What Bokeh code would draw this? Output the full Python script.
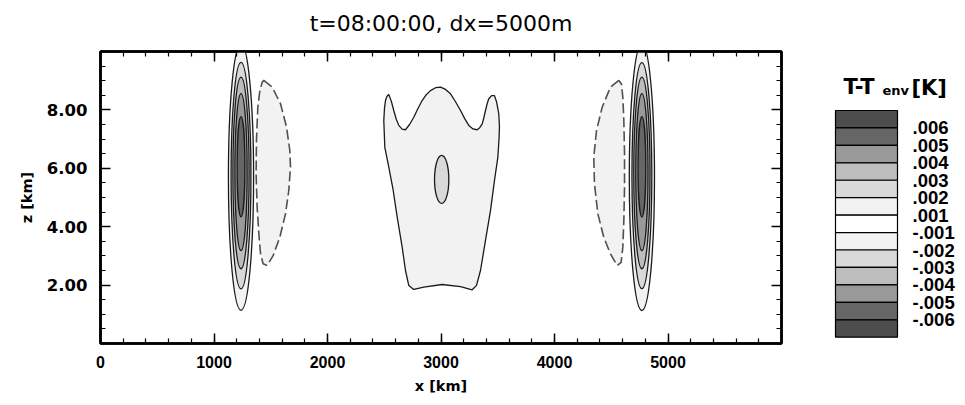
from bokeh.plotting import figure
from bokeh.models import Range1d, LinearAxis, FixedTicker, NumeralTickFormatter, CustomJSTickFormatter
from bokeh.layouts import row, column
from bokeh.core.properties import value
from bokeh.embed import file_html
from bokeh.resources import INLINE

# ---------------- data ----------------
TITLE = "t=08:00:00, dx=5000m"
X_LABEL = "x [km]"
Z_LABEL = "z [km]"
x_major = [0, 1000, 2000, 3000, 4000, 5000]
x_minor = list(range(0, 6001, 200))
z_major = [2, 4, 6, 8]
z_minor = [i * 0.5 for i in range(0, 21)]

# colour scale (top -> bottom) and its boundary labels
cb_colors = ["#4d4d4d", "#666666", "#999999", "#bdbdbd", "#d9d9d9", "#f2f2f2", "#ffffff",
             "#f2f2f2", "#d9d9d9", "#bdbdbd", "#999999", "#666666", "#4d4d4d"]
cb_labels = [".006", ".005", ".004", ".003", ".002", ".001",
             "-.001", "-.002", "-.003", "-.004", "-.005", "-.006"]
bounds = [0.006, 0.005, 0.004, 0.003, 0.002, 0.001, -0.001, -0.002, -0.003, -0.004, -0.005, -0.006]

# positive cores (nested closed contours .001 ... .005), same shape at both x positions
core_x = [1238, 4770]
core_levels = [0.001, 0.002, 0.003, 0.004, 0.005]
core_zc = [5.70, 5.75, 5.84, 5.87, 6.05]
core_h = [9.14, 7.76, 6.56, 5.38, 3.44]
core_w = [222, 175, 143, 108, 68]

# negative (-.001) dashed contours beside the cores
negL_x = [1439, 1513, 1586, 1639, 1668, 1674, 1659, 1630, 1580, 1521, 1468, 1433, 1410, 1395, 1380, 1371, 1374, 1386, 1404, 1425]
negL_z = [9.01, 8.78, 8.21, 7.41, 6.61, 6.04, 5.24, 4.44, 3.64, 3.01, 2.67, 2.73, 3.07, 3.76, 4.67, 5.81, 6.95, 8.09, 8.66, 8.95]
negR_x = [4567, 4493, 4420, 4370, 4346, 4352, 4382, 4434, 4493, 4552, 4587, 4602, 4611, 4617, 4617, 4611, 4602, 4590]
negR_z = [9.01, 8.78, 8.09, 7.29, 6.38, 5.47, 4.44, 3.64, 3.07, 2.67, 2.78, 3.30, 4.21, 5.35, 6.50, 7.64, 8.44, 8.89]

# central +.001 region
mid_x = [2540, 2562, 2584, 2606, 2628, 2657, 2687, 2723, 2760, 2797, 2834, 2870, 2907, 2952, 2996, 3040,
         3084, 3128, 3172, 3209, 3245, 3282, 3319, 3341, 3363, 3378, 3392, 3407, 3421, 3446, 3471, 3490,
         3509, 3515, 3512, 3501, 3486, 3471, 3436, 3392, 3348, 3313, 3275, 3172, 3010, 2849, 2760, 2716,
         2687, 2658, 2614, 2579, 2540, 2505, 2496, 2502, 2511, 2524]
mid_z = [8.53, 8.30, 7.98, 7.68, 7.47, 7.34, 7.32, 7.50, 7.75, 8.05, 8.32, 8.52, 8.66, 8.76, 8.78, 8.70,
         8.55, 8.28, 7.98, 7.70, 7.47, 7.35, 7.32, 7.39, 7.52, 7.74, 7.98, 8.22, 8.38, 8.49, 8.49, 8.27,
         7.87, 7.45, 7.07, 6.38, 5.98, 5.58, 4.55, 3.53, 2.50, 1.99, 1.84, 1.95, 2.02, 1.93, 1.85, 1.99,
         2.50, 3.30, 4.33, 5.24, 6.04, 6.72, 7.64, 8.05, 8.32, 8.47]
# central +.002 core
midcore_x = [3006]
midcore_z = [5.62]
midcore_w = [126]
midcore_h = [1.64]


def fill_for(level):
    # colour of the band just above a positive contour level
    return cb_colors[bounds.index(level)]


HEAD = 46  # height of the title strip above the plots

# ---------------- title strip ----------------
head = figure(frame_width=965, frame_height=HEAD, x_range=Range1d(0, 965), y_range=Range1d(HEAD, 0),
              output_backend="svg", toolbar_location=None, min_border=0,
              x_axis_location=None, y_axis_location=None)
head.grid.visible = False
head.outline_line_color = None
head.background_fill_color = "white"
head.border_fill_color = "white"
head.text(x=[440.5], y=[23], text=[TITLE], text_align="center", text_baseline="alphabetic",
          text_font=value("DejaVu Sans"), text_font_size="22px", text_color="black")

# ---------------- main plot ----------------
p = figure(frame_width=681, frame_height=292, x_range=Range1d(0, 6000), y_range=Range1d(0, 10),
           output_backend="svg", toolbar_location=None,
           min_border_left=100, min_border_right=19, min_border_top=51 - HEAD, min_border_bottom=62)
p.grid.visible = False
p.background_fill_color = "white"
p.border_fill_color = "white"
p.outline_line_color = "black"
p.outline_line_width = 2.5

LINE = "#1a1a1a"

# negative dashed areas
for xs, zs in ((negL_x, negL_z), (negR_x, negR_z)):
    p.patch(xs, zs, fill_color=fill_for(0.001), line_color="#505050", line_width=1.6, line_dash="10 4")

# central region
p.patch(mid_x, mid_z, fill_color=fill_for(0.001), line_color=LINE, line_width=1.3)
p.ellipse(x=midcore_x, y=midcore_z, width=midcore_w, height=midcore_h,
          fill_color=fill_for(0.002), line_color=LINE, line_width=1.3)

# cores
for cx in core_x:
    for lev, zc, h, w in zip(core_levels, core_zc, core_h, core_w):
        p.ellipse(x=[cx], y=[zc], width=[w], height=[h], fill_color=fill_for(lev),
                  line_color=LINE, line_width=1.3)


def style_ticks(ax):
    ax.major_tick_in = 10
    ax.major_tick_out = 0
    ax.minor_tick_in = 5
    ax.minor_tick_out = 0
    ax.axis_line_width = 2.5
    ax.major_tick_line_width = 1.5
    ax.minor_tick_line_width = 1.2


for ax in (p.xaxis[0], p.yaxis[0]):
    style_ticks(ax)
    ax.major_label_text_font_style = "bold"
    ax.major_label_text_color = "black"
    ax.axis_label_text_font = "DejaVu Sans"
    ax.axis_label_text_font_style = "bold"
    ax.axis_label_text_font_size = "14.5px"
    ax.axis_label_text_color = "black"

p.xaxis.major_label_text_font = "Liberation Sans"
p.xaxis.major_label_text_font_size = "16px"
p.yaxis.major_label_text_font = "DejaVu Sans"
p.yaxis.major_label_text_font_size = "16.5px"

p.xaxis.ticker = FixedTicker(ticks=x_major, minor_ticks=x_minor)
p.yaxis.ticker = FixedTicker(ticks=z_major, minor_ticks=z_minor)
p.yaxis.formatter = NumeralTickFormatter(format="0.00")
p.xaxis.axis_label = X_LABEL
p.yaxis.axis_label = Z_LABEL
p.xaxis.major_label_standoff = 12
p.yaxis.major_label_standoff = 13
p.xaxis.axis_label_standoff = 7
p.yaxis.axis_label_standoff = 9

blank = CustomJSTickFormatter(code="return ''")
for side, tk in (("above", FixedTicker(ticks=x_major, minor_ticks=x_minor)),
                 ("right", FixedTicker(ticks=z_major, minor_ticks=z_minor))):
    ax = LinearAxis(ticker=tk, formatter=blank)
    style_ticks(ax)
    ax.major_label_standoff = 0
    p.add_layout(ax, side)

# ---------------- colour bar panel (data units = page pixels) ----------------
cb = figure(frame_width=165, frame_height=292, x_range=Range1d(800, 965), y_range=Range1d(343, 51),
            output_backend="svg", toolbar_location=None,
            min_border_left=0, min_border_right=0, min_border_top=51 - HEAD, min_border_bottom=62,
            x_axis_location=None, y_axis_location=None)
cb.grid.visible = False
cb.outline_line_color = None
cb.background_fill_color = "white"
cb.border_fill_color = "white"

n = len(cb_colors)
top0, band = 110.0, 17.44
tops = [top0 + i * band for i in range(n)]
bots = [t + band for t in tops]
cb.quad(left=835, right=897, top=tops, bottom=bots, fill_color=cb_colors, line_color="black", line_width=1.2)
cb.text(x=[912] * len(cb_labels), y=bots[:-1], text=cb_labels, text_baseline="middle",
        text_font=value("Liberation Sans"), text_font_style="bold", text_font_size="18.5px",
        text_color="black")
cb.text(x=[843], y=[86], text=["T-T"], text_baseline="alphabetic",
        text_font=value("DejaVu Sans"), text_font_style="bold", text_font_size="21px", text_color="black")
cb.text(x=[882], y=[89.5], text=["env"], text_baseline="alphabetic",
        text_font=value("DejaVu Sans"), text_font_style="bold", text_font_size="13px", text_color="black")
cb.text(x=[911], y=[87], text=["[K]"], text_baseline="alphabetic",
        text_font=value("DejaVu Sans"), text_font_style="bold", text_font_size="21px", text_color="black")

layout = column(head, row(p, cb, spacing=0), spacing=0)
open("out.html", "w").write(file_html(layout, INLINE))
